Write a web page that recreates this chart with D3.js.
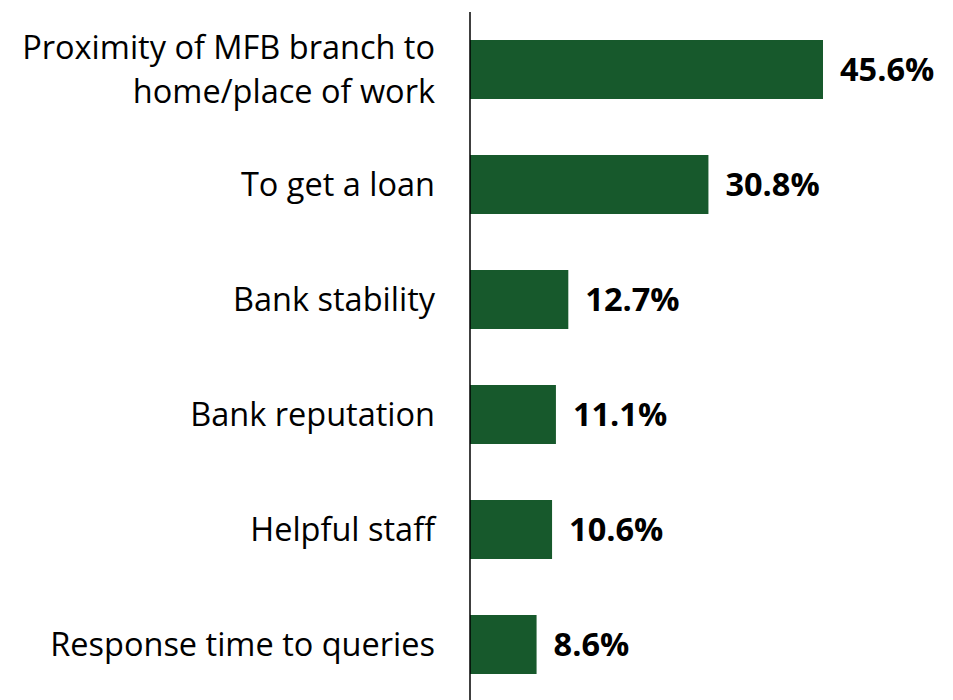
<!DOCTYPE html>
<html>
<head>
<meta charset="utf-8">
<script src="https://cdn.jsdelivr.net/npm/d3@7"></script>
<style>
  html, body { margin: 0; padding: 0; background: #fff; }
  svg text { font-family: "Open Sans", "Noto Sans", sans-serif; }
</style>
</head>
<body>
<svg id="chart" width="953" height="700"></svg>
<script>
// Reasons for choosing a microfinance bank (% of respondents)
const categories = [
  ["Proximity of MFB branch to", "home/place of work"],
  ["To get a loan"],
  ["Bank stability"],
  ["Bank reputation"],
  ["Helpful staff"],
  ["Response time to queries"]
];
const values = [45.6, 30.8, 12.7, 11.1, 10.6, 8.6];
const valueLabels = ["45.6%", "30.8%", "12.7%", "11.1%", "10.6%", "8.6%"];

const svg = d3.select("#chart");
const axisX = 470;
const x = d3.scaleLinear().domain([0, 45.6]).range([axisX, 823]);
const y = d3.scaleBand()
  .domain(d3.range(values.length))
  .range([12, 702])
  .paddingInner(0.487)
  .paddingOuter(0.2435);

const green = "#17592C";

// bars
svg.append("g").selectAll("rect")
  .data(values)
  .join("rect")
  .attr("x", axisX)
  .attr("y", (d, i) => y(i))
  .attr("width", d => x(d) - axisX)
  .attr("height", y.bandwidth())
  .attr("fill", green);

// category axis line
svg.append("line")
  .attr("x1", axisX).attr("x2", axisX)
  .attr("y1", 12).attr("y2", 700)
  .attr("stroke", "#000").attr("stroke-width", 1.5);

// category labels (right-aligned, possibly two lines)
const lineGap = 44;
svg.append("g").selectAll("text")
  .data(categories)
  .join("text")
  .attr("text-anchor", "end")
  .attr("font-size", 32.5)
  .attr("fill", "#000")
  .each(function(lines, i) {
    const cy = y(i) + y.bandwidth() / 2;
    const top = cy - (lines.length - 1) * lineGap / 2;
    d3.select(this).selectAll("tspan")
      .data(lines)
      .join("tspan")
      .attr("x", 435)
      .attr("y", (d, j) => top + j * lineGap)
      .attr("dy", "0.35em")
      .text(d => d);
  });

// value labels
svg.append("g").selectAll("text")
  .data(values)
  .join("text")
  .attr("x", d => x(d) + 17)
  .attr("y", (d, i) => y(i) + y.bandwidth() / 2)
  .attr("dy", "0.35em")
  .attr("font-size", 32.5)
  .attr("font-weight", "bold")
  .attr("fill", "#000")
  .text((d, i) => valueLabels[i]);
</script>
</body>
</html>
